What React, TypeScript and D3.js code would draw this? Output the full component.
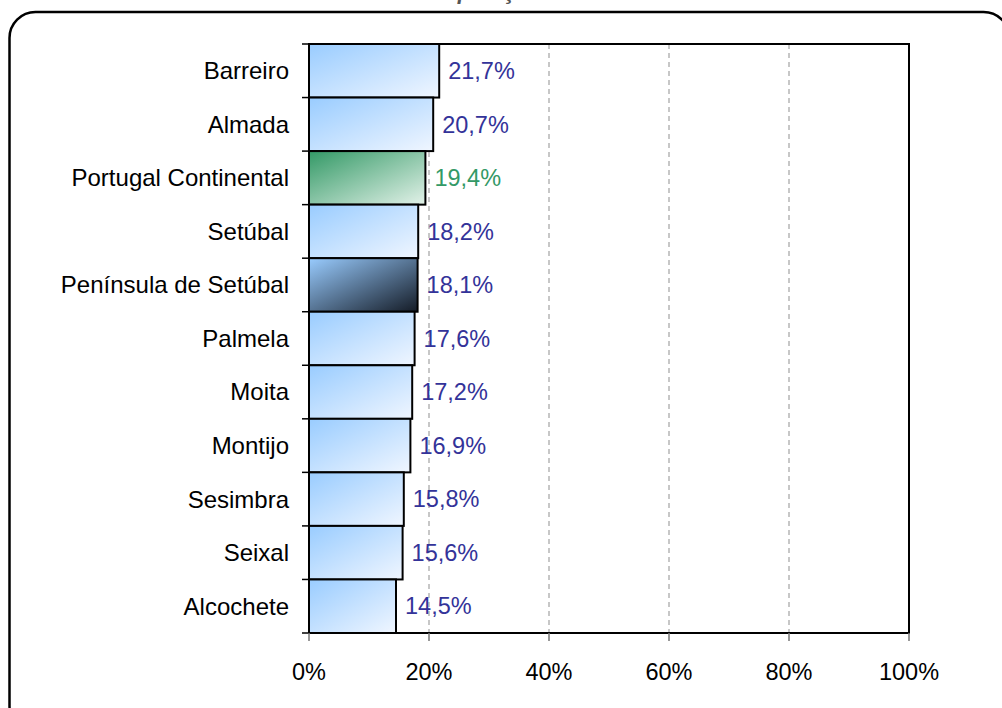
import React from "react";
import * as d3 from "d3";

const categories = [
  "Barreiro",
  "Almada",
  "Portugal Continental",
  "Setúbal",
  "Península de Setúbal",
  "Palmela",
  "Moita",
  "Montijo",
  "Sesimbra",
  "Seixal",
  "Alcochete",
];
const values = [21.7, 20.7, 19.4, 18.2, 18.1, 17.6, 17.2, 16.9, 15.8, 15.6, 14.5];
const styleKind = ["blue", "blue", "green", "blue", "navy", "blue", "blue", "blue", "blue", "blue", "blue"];
const xTicks = [0, 20, 40, 60, 80, 100];
const title = "População idosa";

const W = 1002;
const H = 708;
const M = { left: 309, right: 909, top: 44, bottom: 633 };
const FONT = "Liberation Sans, Arial, sans-serif";

export default function App() {
  const x = d3.scaleLinear().domain([0, 100]).range([M.left, M.right]);
  const y = d3.scaleBand<string>().domain(categories).range([M.top, M.bottom]).paddingInner(0).paddingOuter(0);
  const bw = y.bandwidth();
  const boundaries = categories.map((c) => y(c) as number).concat([M.bottom]);
  const fmt = (v: number) => v.toFixed(1).replace(".", ",") + "%";

  return (
    <div style={{ position: "absolute", left: 0, top: 0 }}>
      <svg width={W} height={H} style={{ display: "block", fontFamily: FONT }}>
        <defs>
          <linearGradient id="gBlue" x1="0" y1="0" x2="1" y2="1">
            <stop offset="0%" stopColor="#99CCFF" />
            <stop offset="100%" stopColor="#F0F6FF" />
          </linearGradient>
          <linearGradient id="gGreen" x1="0" y1="0" x2="1" y2="1">
            <stop offset="0%" stopColor="#339966" />
            <stop offset="100%" stopColor="#E3F2E9" />
          </linearGradient>
          <linearGradient id="gNavy" x1="0" y1="0" x2="1" y2="1">
            <stop offset="0%" stopColor="#99CCFF" />
            <stop offset="100%" stopColor="#141B26" />
          </linearGradient>
        </defs>
        <rect x={0} y={0} width={W} height={H} fill="#fff" />
        <text x={517} y={-1} textAnchor="middle" fontSize={22} fontWeight="bold" fontStyle="italic" fill="#555">
          {title}
        </text>
        <rect x={9.5} y={12} width={1000} height={720} rx={26} ry={26} fill="none" stroke="#000" strokeWidth={2.5} />

        {/* gridlines */}
        {xTicks.filter((t) => t > 0 && t < 100).map((t) => (
          <line key={t} x1={x(t)} x2={x(t)} y1={M.top} y2={M.bottom} stroke="#aaa" strokeWidth={1.3} strokeDasharray="5,4" />
        ))}

        {/* plot border top/right/bottom */}
        <path d={`M${M.left},${M.top}H${M.right}V${M.bottom}H${M.left}`} fill="none" stroke="#000" strokeWidth={2} />

        {/* bars */}
        {categories.map((c, i) => {
          const fill = styleKind[i] === "green" ? "url(#gGreen)" : styleKind[i] === "navy" ? "url(#gNavy)" : "url(#gBlue)";
          return (
            <rect key={c} x={x(0)} y={y(c)} width={x(values[i]) - x(0)} height={bw} fill={fill} stroke="#000" strokeWidth={2} />
          );
        })}

        {/* left axis */}
        <line x1={M.left} x2={M.left} y1={M.top} y2={M.bottom} stroke="#000" strokeWidth={2} />
        {boundaries.map((b, i) => (
          <line key={i} x1={M.left - 7} x2={M.left} y1={b} y2={b} stroke="#000" strokeWidth={1.5} />
        ))}
        {xTicks.map((t) => (
          <line key={t} x1={x(t)} x2={x(t)} y1={M.bottom} y2={M.bottom + 8} stroke="#777" strokeWidth={1.5} />
        ))}

        {/* category labels */}
        {categories.map((c) => (
          <text key={c} x={M.left - 20} y={(y(c) as number) + bw / 2} dy="0.35em" textAnchor="end" fontSize={24} fill="#000">
            {c}
          </text>
        ))}

        {/* value labels */}
        {categories.map((c, i) => (
          <text key={c} x={x(values[i]) + 9} y={(y(c) as number) + bw / 2} dy="0.35em" fontSize={23.5} fill={styleKind[i] === "green" ? "#339966" : "#333399"}>
            {fmt(values[i])}
          </text>
        ))}

        {/* x tick labels */}
        {xTicks.map((t) => (
          <text key={t} x={x(t)} y={680} textAnchor="middle" fontSize={23.5} fill="#000">
            {t + "%"}
          </text>
        ))}
      </svg>
    </div>
  );
}
